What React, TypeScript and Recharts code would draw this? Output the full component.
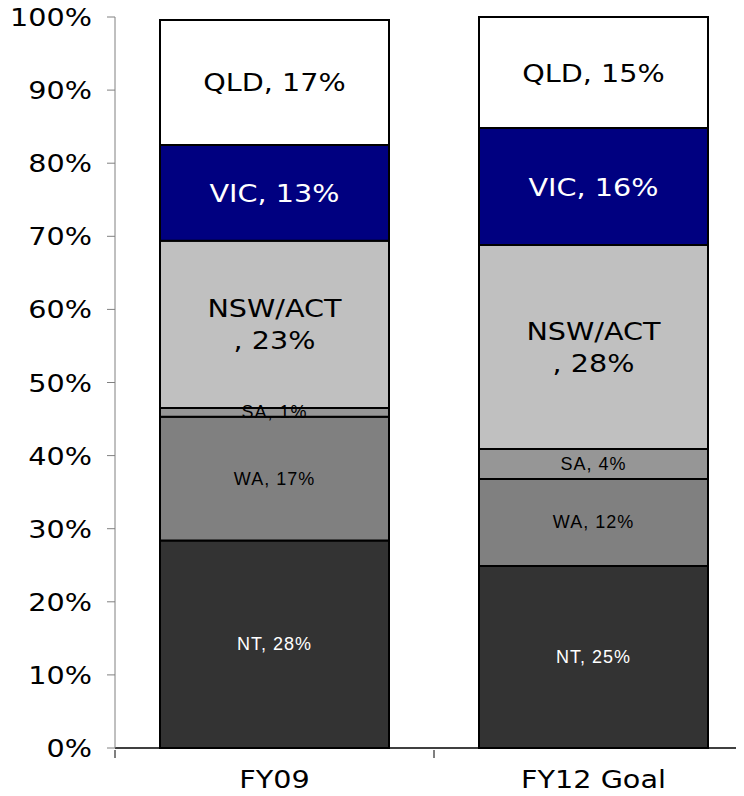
import { BarChart, Bar, XAxis, YAxis, LabelList } from "recharts";

// categories
const periods = ["FY09", "FY12 Goal"];

// share of total, percent (bottom to top of each stack)
const ntValues = [28.4, 24.9];
const waValues = [16.9, 11.9];
const saValues = [1.2, 4.1];
const nswValues = [22.9, 27.9];
const vicValues = [13.1, 16.0];
const qldValues = [17.1, 15.2];

// segment labels as printed on the chart
const ntLabels = ["NT, 28%", "NT, 25%"];
const waLabels = ["WA, 17%", "WA, 12%"];
const saLabels = ["SA, 1%", "SA, 4%"];
const nswLabels = ["NSW/ACT\n, 23%", "NSW/ACT\n, 28%"];
const vicLabels = ["VIC, 13%", "VIC, 16%"];
const qldLabels = ["QLD, 17%", "QLD, 15%"];

const yTicks = [0, 10, 20, 30, 40, 50, 60, 70, 80, 90, 100];

const data = periods.map((p, i) => ({
  period: p,
  nt: ntValues[i],
  ntLabel: ntLabels[i],
  wa: waValues[i],
  waLabel: waLabels[i],
  sa: saValues[i],
  saLabel: saLabels[i],
  nsw: nswValues[i],
  nswLabel: nswLabels[i],
  vic: vicValues[i],
  vicLabel: vicLabels[i],
  qld: qldValues[i],
  qldLabel: qldLabels[i],
}));

// the original text is a Verdana-ish face stretched sideways
const BIG = { fontFamily: "DejaVu Sans", fontSize: 24.5 };
const BIG_STRETCH = 1.17;
const SMALL = { fontFamily: "Liberation Sans", fontSize: 18, letterSpacing: 1 };

function WideText({ x, y, anchor, fill, children }: any) {
  return (
    <g transform={`translate(${x},${y}) scale(${BIG_STRETCH},1)`}>
      <text x={0} y={0} textAnchor={anchor} fill={fill} style={BIG as any}>
        {children}
      </text>
    </g>
  );
}

function makeLabel(color: string, big: boolean) {
  return (props: any) => {
    const { x, y, width, height, value } = props;
    const cx = Number(x) + Number(width) / 2;
    const cy = Number(y) + Number(height) / 2;
    const lines = String(value).split("\n");
    if (big) {
      const lh = 32;
      return (
        <g>
          {lines.map((ln, k) => (
            <WideText
              key={k}
              x={cx}
              y={cy - ((lines.length - 1) * lh) / 2 + k * lh + 9}
              anchor="middle"
              fill={color}
            >
              {ln}
            </WideText>
          ))}
        </g>
      );
    }
    return (
      <text x={cx} y={cy + 6} textAnchor="middle" fill={color} style={SMALL as any}>
        {String(value)}
      </text>
    );
  };
}

// category label at band centre, tick mark at band boundary
function XTick(props: any) {
  const { x, y, payload } = props;
  const off = payload?.offset ?? 0;
  return (
    <g>
      <line x1={x - off} x2={x - off} y1={y - 8} y2={y} stroke="#000" strokeWidth={1} />
      <WideText x={x} y={y + 30} anchor="middle" fill="#000">
        {payload.value}
      </WideText>
    </g>
  );
}

function YTick(props: any) {
  const { x, y, payload } = props;
  return (
    <WideText x={x} y={y + 9} anchor="end" fill="#000">
      {`${payload.value}%`}
    </WideText>
  );
}

export default function App() {
  return (
    <div
      style={{
        margin: -8,
        width: 744,
        height: 796,
        overflow: "hidden",
        background: "#fff",
      }}
    >
      <BarChart
        width={760}
        height={796}
        data={data}
        margin={{ top: 17, right: 7, left: 0, bottom: 8 }}
      >
        <XAxis
          dataKey="period"
          height={40}
          tickLine={false}
          axisLine={{ stroke: "#000", strokeWidth: 1.5 }}
          tick={<XTick />}
          tickSize={8}
        />
        <YAxis
          width={115}
          domain={[0, 100]}
          ticks={yTicks}
          interval={0}
          tickSize={8}
          tickMargin={15}
          axisLine={{ stroke: "#808080" }}
          tickLine={{ stroke: "#808080" }}
          tick={<YTick />}
        />
        <Bar dataKey="nt" stackId="a" fill="#333333" stroke="#000" strokeWidth={2} barSize={229} isAnimationActive={false}>
          <LabelList dataKey="ntLabel" content={makeLabel("#ffffff", false)} />
        </Bar>
        <Bar dataKey="wa" stackId="a" fill="#808080" stroke="#000" strokeWidth={2} barSize={229} isAnimationActive={false}>
          <LabelList dataKey="waLabel" content={makeLabel("#000000", false)} />
        </Bar>
        <Bar dataKey="sa" stackId="a" fill="#969696" stroke="#000" strokeWidth={2} barSize={229} isAnimationActive={false}>
          <LabelList dataKey="saLabel" content={makeLabel("#000000", false)} />
        </Bar>
        <Bar dataKey="nsw" stackId="a" fill="#c0c0c0" stroke="#000" strokeWidth={2} barSize={229} isAnimationActive={false}>
          <LabelList dataKey="nswLabel" content={makeLabel("#000000", true)} />
        </Bar>
        <Bar dataKey="vic" stackId="a" fill="#000080" stroke="#000" strokeWidth={2} barSize={229} isAnimationActive={false}>
          <LabelList dataKey="vicLabel" content={makeLabel("#ffffff", true)} />
        </Bar>
        <Bar dataKey="qld" stackId="a" fill="#ffffff" stroke="#000" strokeWidth={2} barSize={229} isAnimationActive={false}>
          <LabelList dataKey="qldLabel" content={makeLabel("#000000", true)} />
        </Bar>
      </BarChart>
    </div>
  );
}
